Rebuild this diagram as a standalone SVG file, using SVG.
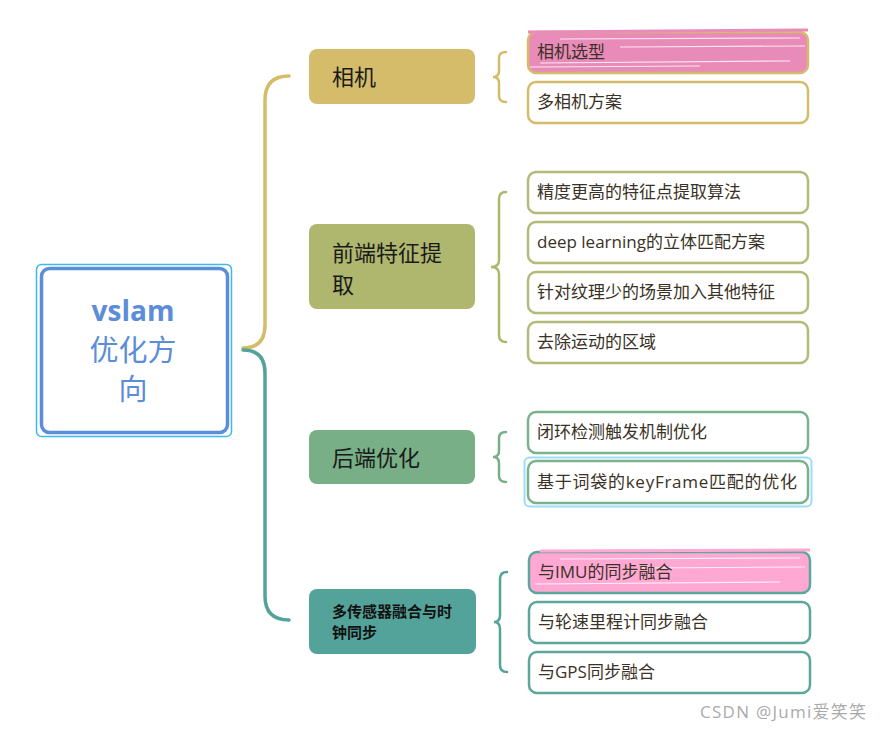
<svg xmlns="http://www.w3.org/2000/svg" width="881" height="730" viewBox="0 0 881 730">
<style>
text{font-family:"Open Sans","Noto Sans CJK SC",sans-serif}
.main{font-size:22px;fill:#1a1a1a}
.leaf{font-size:17px;fill:#3a3226}
.lbox{fill:#fff;stroke-width:2.5}
.br{fill:none;stroke-width:2.5;stroke-linecap:round}
.scr{stroke:#fff;stroke-width:1.2;opacity:0.8}
</style>
<rect width="881" height="730" fill="#fff"/>
<g id="connectors" fill="none" stroke-width="3.5" stroke-linecap="round">
<path d="M243,348 C258,348 265,340 265,325 L265,100 Q265,76 289,76" stroke="#D4BC6A"/>
<path d="M243,350 C258,350 265,358 265,373 L265,596 Q265,620 289,620" stroke="#54A39A"/>
<path class="br" stroke="#D4BC6A" d="M506,52 Q499,52 499,58 L499,71 Q499,77 493,77 Q499,77 499,83 L499,96 Q499,102 506,102"/>
<path class="br" stroke="#AFB66E" d="M506,192 Q499,192 499,199 L499,260 Q499,267 491,267 Q499,267 499,274 L499,335 Q499,342 506,342"/>
<path class="br" stroke="#78AF87" d="M506,432 Q499,432 499,438 L499,451 Q499,457 493,457 Q499,457 499,463 L499,476 Q499,482 506,482"/>
<path class="br" stroke="#54A39A" d="M507,572 Q500,572 500,579 L500,615 Q500,622 494,622 Q500,622 500,629 L500,665 Q500,672 507,672"/>
</g>
<g id="root">
<rect x="36.5" y="264.5" width="195" height="172" rx="5" fill="#fff" stroke="#3FB8F0" stroke-width="1.5"/>
<rect x="41.5" y="268.5" width="186" height="164" rx="8" fill="#fff" stroke="#5B8DD9" stroke-width="3.5"/>
<text x="133" y="321" text-anchor="middle" font-size="28" font-weight="bold" fill="#5B8DD9">vslam</text>
<text x="133" y="361" text-anchor="middle" font-size="29" fill="#5B8DD9">优化方</text>
<text x="133" y="400" text-anchor="middle" font-size="29" fill="#5B8DD9">向</text>
</g>
<g id="n-camera">
<rect x="309" y="49" width="166" height="55" rx="8" fill="#D4BC6A"/>
<text class="main" x="332" y="85">相机</text>
</g>
<g id="n-frontend">
<rect x="309" y="224" width="166" height="85" rx="8" fill="#AFB66E"/>
<text class="main" x="332" y="261">前端特征提</text>
<text class="main" x="332" y="293">取</text>
</g>
<g id="n-backend">
<rect x="309" y="430" width="166" height="54" rx="8" fill="#78AF87"/>
<text class="main" x="332" y="466">后端优化</text>
</g>
<g id="n-sensor">
<rect x="309" y="589" width="167" height="65" rx="8" fill="#54A39A"/>
<text x="332" y="617" font-size="15" font-weight="bold" fill="#111">多传感器融合与时</text>
<text x="332" y="638" font-size="15" font-weight="bold" fill="#111">钟同步</text>
</g>
<g id="l-cam1">
<rect x="528" y="32" width="280" height="41" rx="8" fill="#E98BB8" stroke="#D4BC6A" stroke-width="2.5"/>
<path d="M528,32 L808,30" stroke="#E98BB8" stroke-width="3"/>
<line class="scr" x1="560" y1="39" x2="800" y2="38"/>
<line class="scr" x1="540" y1="63" x2="790" y2="61"/>
<line class="scr" x1="620" y1="47" x2="805" y2="46"/>
<line class="scr" x1="530" y1="67" x2="700" y2="66"/>
<text class="leaf" x="537" y="58">相机选型</text>
</g>
<g id="l-cam2">
<rect class="lbox" x="528" y="82" width="280" height="41" rx="8" stroke="#D4BC6A"/>
<text class="leaf" x="537" y="108">多相机方案</text>
</g>
<g id="l-fe1">
<rect class="lbox" x="528" y="172" width="280" height="41" rx="8" stroke="#B3BA7A"/>
<text class="leaf" x="537" y="198">精度更高的特征点提取算法</text>
</g>
<g id="l-fe2">
<rect class="lbox" x="528" y="222" width="280" height="41" rx="8" stroke="#B3BA7A"/>
<text class="leaf" x="537" y="248">deep learning的立体匹配方案</text>
</g>
<g id="l-fe3">
<rect class="lbox" x="528" y="272" width="280" height="41" rx="8" stroke="#B3BA7A"/>
<text class="leaf" x="537" y="298">针对纹理少的场景加入其他特征</text>
</g>
<g id="l-fe4">
<rect class="lbox" x="528" y="322" width="280" height="41" rx="8" stroke="#B3BA7A"/>
<text class="leaf" x="537" y="348">去除运动的区域</text>
</g>
<g id="l-be1">
<rect class="lbox" x="528" y="412" width="280" height="41" rx="8" stroke="#7CB18E"/>
<text class="leaf" x="537" y="438">闭环检测触发机制优化</text>
</g>
<g id="l-be2">
<rect x="524.5" y="457.5" width="287" height="49" rx="5" fill="#fff" stroke="#9BDDF7" stroke-width="2"/>
<rect class="lbox" x="528" y="461" width="280" height="42" rx="8" stroke="#7CB18E"/>
<text class="leaf" x="537" y="488" textLength="260" lengthAdjust="spacing">基于词袋的keyFrame匹配的优化</text>
</g>
<g id="l-s1">
<rect x="529" y="552" width="281" height="41" rx="8" fill="#FFA8D3" stroke="#5DA69C" stroke-width="2.5"/>
<path d="M540,551 L810,550" stroke="#FFA8D3" stroke-width="3"/>
<line class="scr" x1="560" y1="559" x2="800" y2="558"/>
<line class="scr" x1="535" y1="584" x2="780" y2="582"/>
<line class="scr" x1="640" y1="568" x2="805" y2="567"/>
<text class="leaf" x="538" y="578">与IMU的同步融合</text>
</g>
<g id="l-s2">
<rect class="lbox" x="529" y="602" width="281" height="41" rx="8" stroke="#5DA69C"/>
<text class="leaf" x="538" y="628">与轮速里程计同步融合</text>
</g>
<g id="l-s3">
<rect class="lbox" x="529" y="652" width="281" height="41" rx="8" stroke="#5DA69C"/>
<text class="leaf" x="538" y="678">与GPS同步融合</text>
</g>
<text x="700" y="718" font-size="17" fill="#aaa" font-family="'Liberation Sans','Noto Sans CJK SC',sans-serif" textLength="166" lengthAdjust="spacing">CSDN @Jumi爱笑笑</text>
</svg>
